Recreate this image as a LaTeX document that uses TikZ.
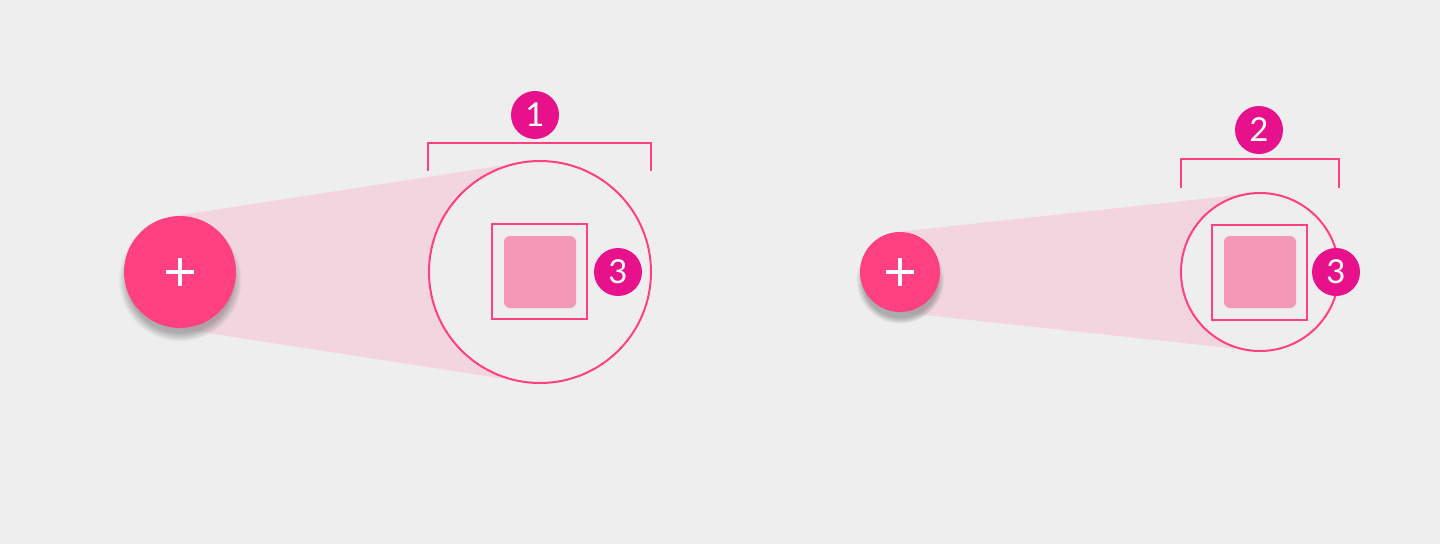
\documentclass[tikz,border=0pt]{standalone}
\usepackage{fontspec}
\setmainfont{Lato}
\usetikzlibrary{shadows,calc}
\definecolor{bg}{HTML}{EEEEEE}
\definecolor{fab}{HTML}{FF4081}
\definecolor{cone}{HTML}{F2D5DF}
\definecolor{badgec}{RGB}{232,17,140}
\definecolor{inner}{HTML}{F598B8}
\tikzset{
  fabnode/.style={circle,fill=fab,inner sep=0pt,minimum size=#1,
    circular drop shadow={shadow xshift=0pt,shadow yshift=-7pt,opacity=0.6,shadow scale=1.1}},
  lens/.style={circle,draw=fab,line width=2pt,fill=bg,inner sep=0pt,minimum size=#1},
  badge/.style={circle,fill=badgec,inner sep=0pt,minimum size=48pt,text=white,font=\fontsize{33}{33}\selectfont},
  outerbox/.style={draw=fab,line width=2pt,inner sep=0pt,minimum size=95pt},
  innerbox/.style={fill=inner,rounded corners=6pt,inner sep=0pt,minimum size=72pt},
  bracket/.style={draw=fab,line width=2pt},
  plus/.style={draw=white,line width=3.5pt},
  conefill/.style={fill=cone}
}
\begin{document}
\begin{tikzpicture}[x=1pt,y=-1pt]
\fill[bg] (0,0) rectangle (1440,544);
\useasboundingbox (0,0) rectangle (1440,544);
% ---------- left group ----------
\coordinate (c1t) at (171.4,216.6);
\coordinate (c1b) at (171.4,327.4);
\coordinate (l1t) at (523,162.3);
\coordinate (l1b) at (523,381.7);
\fill[conefill] (c1t) -- (l1t) -- (l1b) -- (c1b) -- cycle;
\node[lens=222pt] (lens1) at (540,272) {};
\node[outerbox] (ob1) at (539.5,271.5) {};
\node[innerbox] (ib1) at (540,272) {};
\node[badge] (b3a) at (618,272) {3};
\draw[bracket] (428,171) -- (428,143) -- (651,143) -- (651,171);
\node[badge] (b1) at (535,115) {1};
\node[fabnode=112pt] (fab1) at (180,272) {};
\draw[plus] ($(fab1.center)+(-14,0)$) -- ($(fab1.center)+(14,0)$);
\draw[plus] ($(fab1.center)+(0,-14)$) -- ($(fab1.center)+(0,14)$);
% ---------- right group ----------
\coordinate (c2t) at (895.7,232.2);
\coordinate (c2b) at (895.7,311.8);
\coordinate (l2t) at (1251.4,193.5);
\coordinate (l2b) at (1251.4,350.5);
\fill[conefill] (c2t) -- (l2t) -- (l2b) -- (c2b) -- cycle;
\node[lens=158pt] (lens2) at (1260,272) {};
\node[outerbox] (ob2) at (1259.5,272) {};
\node[innerbox] (ib2) at (1260,272) {};
\node[badge] (b3b) at (1336,272) {3};
\draw[bracket] (1181,188) -- (1181,159) -- (1339,159) -- (1339,188);
\node[badge] (b2) at (1259,130) {2};
\node[fabnode=80pt] (fab2) at (900,272) {};
\draw[plus] ($(fab2.center)+(-14,0)$) -- ($(fab2.center)+(14,0)$);
\draw[plus] ($(fab2.center)+(0,-14)$) -- ($(fab2.center)+(0,14)$);
\end{tikzpicture}
\end{document}
